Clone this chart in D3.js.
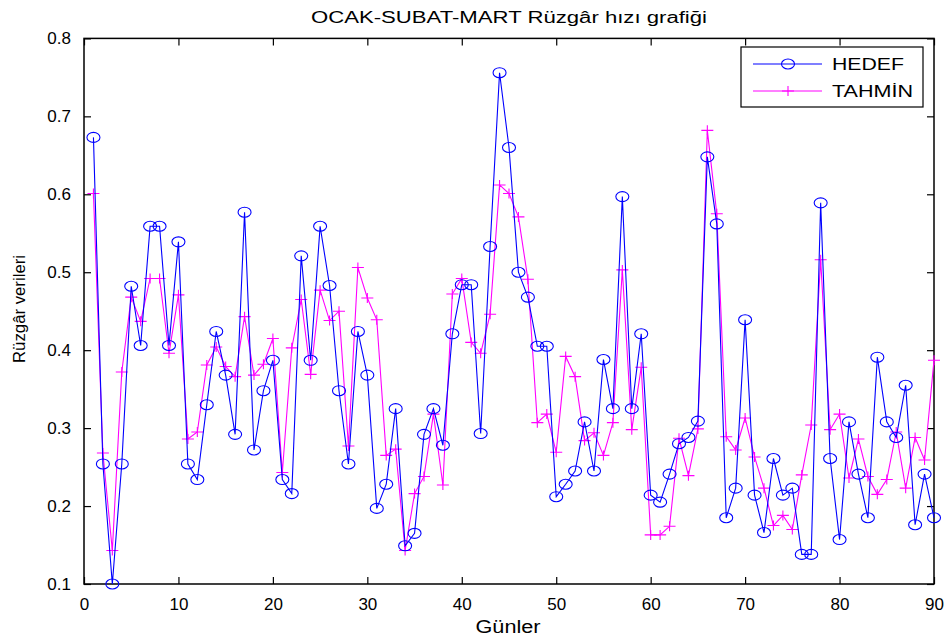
<!DOCTYPE html>
<html>
<head>
<meta charset="utf-8">
<script src="https://cdn.jsdelivr.net/npm/d3@7"></script>
<style>
  body { margin: 0; background: #fff; }
  text { font-family: "Liberation Sans", Arial, sans-serif; }
</style>
</head>
<body>
<div id="chart"></div>
<script>
// HEDEF (measured) wind values, days 1..90
const hedef = [
  0.673, 0.254, 0.100, 0.254, 0.482, 0.406, 0.559, 0.559, 0.406, 0.539,
  0.254, 0.234, 0.330, 0.424, 0.368, 0.292, 0.577, 0.272, 0.348, 0.387,
  0.234, 0.216, 0.521, 0.387, 0.559, 0.483, 0.348, 0.254, 0.424, 0.368,
  0.197, 0.228, 0.325, 0.149, 0.165, 0.292, 0.325, 0.278, 0.421, 0.484,
  0.484, 0.293, 0.533, 0.756, 0.660, 0.500, 0.468, 0.405, 0.405, 0.212,
  0.228, 0.245, 0.308, 0.245, 0.388, 0.325, 0.597, 0.325, 0.421, 0.214,
  0.205, 0.241, 0.280, 0.288, 0.309, 0.648, 0.562, 0.185, 0.223, 0.439,
  0.214, 0.166, 0.261, 0.214, 0.223, 0.138, 0.138, 0.589, 0.261, 0.157,
  0.308, 0.241, 0.185, 0.391, 0.308, 0.288, 0.355, 0.176, 0.241, 0.185
];
// TAHMIN (predicted) wind values, days 1..90
const tahmin = [
  0.601, 0.268, 0.143, 0.372, 0.468, 0.437, 0.492, 0.492, 0.396, 0.471,
  0.286, 0.295, 0.381, 0.404, 0.379, 0.366, 0.443, 0.368, 0.382, 0.415,
  0.243, 0.403, 0.465, 0.369, 0.477, 0.438, 0.450, 0.277, 0.506, 0.467,
  0.439, 0.265, 0.273, 0.143, 0.216, 0.238, 0.318, 0.227, 0.472, 0.492,
  0.410, 0.396, 0.446, 0.612, 0.601, 0.571, 0.491, 0.307, 0.318, 0.269,
  0.392, 0.366, 0.284, 0.294, 0.265, 0.307, 0.503, 0.298, 0.378, 0.163,
  0.163, 0.174, 0.287, 0.239, 0.299, 0.682, 0.575, 0.289, 0.272, 0.313,
  0.263, 0.223, 0.175, 0.188, 0.170, 0.240, 0.304, 0.516, 0.298, 0.318,
  0.236, 0.286, 0.238, 0.215, 0.234, 0.295, 0.223, 0.288, 0.259, 0.387
];
const xTicks = [0, 10, 20, 30, 40, 50, 60, 70, 80, 90]
const yTicks = [0.1, 0.2, 0.3, 0.4, 0.5, 0.6, 0.7, 0.8]
const seriesNames = ['HEDEF', 'TAHMİN']

const W = 952, H = 638
const margin = {top: 38.4, right: 18, bottom: 54, left: 84}
const width = W - margin.left - margin.right
const height = H - margin.top - margin.bottom

const svg = d3.select('#chart').append('svg')
  .attr('width', W)
  .attr('height', H)

const g = svg.append('g')
  .attr('transform', `translate(${margin.left}, ${margin.top})`)

const x = d3.scaleLinear().domain([0, 90]).range([0, width])
const y = d3.scaleLinear().domain([0.1, 0.8]).range([height, 0])

const days = d3.range(1, 91)

// frame
g.append('rect')
  .attr('width', width).attr('height', height)
  .attr('fill', 'none').attr('stroke', '#000').attr('stroke-width', 1.5)

// axes with inward ticks
g.append('g')
  .attr('transform', `translate(0, ${height})`)
  .call(d3.axisBottom(x).tickValues(xTicks).tickSize(-7).tickPadding(14).tickFormat(d3.format('d')))
g.append('g')
  .call(d3.axisTop(x).tickValues(xTicks).tickSize(-7).tickFormat(''))
g.append('g')
  .call(d3.axisLeft(y).tickValues(yTicks).tickSize(-7).tickPadding(13).tickFormat(d3.format('.1f')))
g.append('g')
  .attr('transform', `translate(${width}, 0)`)
  .call(d3.axisRight(y).tickValues(yTicks).tickSize(-7).tickFormat(''))

g.selectAll('.domain').remove()
g.selectAll('.tick line').attr('stroke', '#000').attr('stroke-width', 1.2)
g.selectAll('.tick text')
  .attr('fill', '#000')
  .attr('font-size', '17px')
  .attr('font-family', '"Liberation Sans", Arial, sans-serif')

const line = d3.line()
  .x((d, i) => x(days[i]))
  .y(d => y(d))

// TAHMIN series
g.append('path')
  .datum(tahmin)
  .attr('d', line)
  .attr('fill', 'none').attr('stroke', '#ff00ff').attr('stroke-width', 1.1)
g.selectAll('.plus')
  .data(tahmin)
  .enter()
  .append('path')
  .attr('class', 'plus')
  .attr('transform', (d, i) => `translate(${x(days[i])}, ${y(d)})`)
  .attr('d', 'M-6,0H6M0,-5V5')
  .attr('stroke', '#ff00ff').attr('stroke-width', 1.1)

// HEDEF series
g.append('path')
  .datum(hedef)
  .attr('d', line)
  .attr('fill', 'none').attr('stroke', '#0000ff').attr('stroke-width', 1.1)
g.selectAll('.circ')
  .data(hedef)
  .enter()
  .append('ellipse')
  .attr('class', 'circ')
  .attr('cx', (d, i) => x(days[i]))
  .attr('cy', d => y(d))
  .attr('rx', 6.5).attr('ry', 5)
  .attr('fill', 'none').attr('stroke', '#0000ff').attr('stroke-width', 1.1)

// title and axis labels
svg.append('text')
  .attr('x', 509).attr('y', 23)
  .attr('text-anchor', 'middle')
  .attr('font-size', '16px')
  .attr('textLength', 396).attr('lengthAdjust', 'spacingAndGlyphs')
  .text('OCAK-SUBAT-MART Rüzgâr hızı grafiği')
svg.append('text')
  .attr('x', margin.left + width / 2 - 1).attr('y', 633)
  .attr('text-anchor', 'middle')
  .attr('font-size', '18px')
  .attr('textLength', 65).attr('lengthAdjust', 'spacingAndGlyphs')
  .text('Günler')
svg.append('text')
  .attr('transform', `translate(25, 309) rotate(-90)`)
  .attr('text-anchor', 'middle')
  .attr('font-size', '16px')
  .attr('textLength', 108).attr('lengthAdjust', 'spacingAndGlyphs')
  .text('Rüzgâr verileri')

// legend
const lg = svg.append('g').attr('transform', 'translate(741, 47)')
lg.append('rect')
  .attr('width', 182).attr('height', 60)
  .attr('fill', '#fff').attr('stroke', '#000').attr('stroke-width', 1.2)
const rows = [
  {name: seriesNames[0], color: '#0000ff', y: 17, len: 72},
  {name: seriesNames[1], color: '#ff00ff', y: 44, len: 81}
]
rows.forEach((r, i) => {
  lg.append('line')
    .attr('x1', 12).attr('x2', 81).attr('y1', r.y).attr('y2', r.y)
    .attr('stroke', r.color).attr('stroke-width', 1.1)
  if (i === 0) {
    lg.append('ellipse').attr('cx', 47).attr('cy', r.y).attr('rx', 6.5).attr('ry', 5)
      .attr('fill', 'none').attr('stroke', r.color).attr('stroke-width', 1.1)
  } else {
    lg.append('path').attr('transform', `translate(47, ${r.y})`)
      .attr('d', 'M-6,0H6M0,-5V5').attr('stroke', r.color).attr('stroke-width', 1.1)
  }
  lg.append('text')
    .attr('x', 91).attr('y', r.y + 6)
    .attr('font-size', '17px')
    .attr('textLength', r.len).attr('lengthAdjust', 'spacingAndGlyphs')
    .text(r.name)
})
</script>
</body>
</html>
